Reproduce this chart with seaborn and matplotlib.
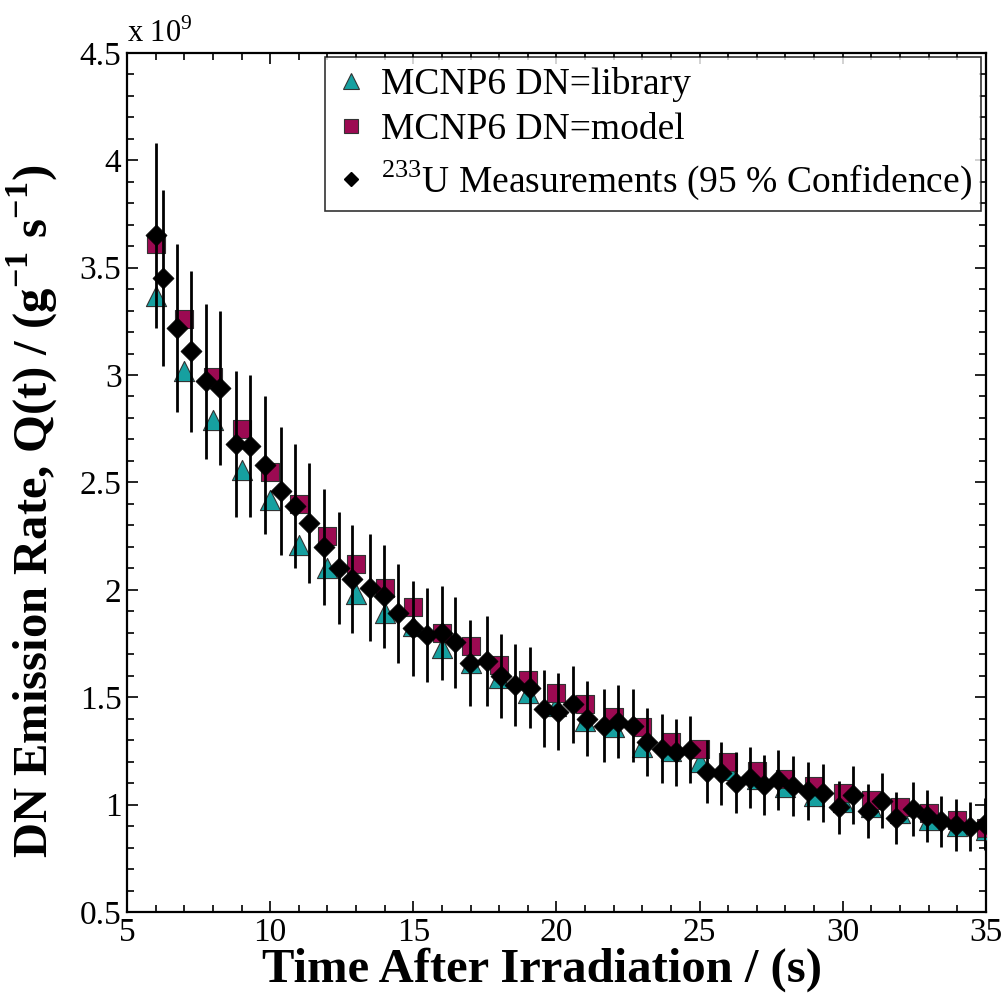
import numpy as np
import pandas as pd
import seaborn as sns
import matplotlib.pyplot as plt
from matplotlib.lines import Line2D
from matplotlib.ticker import MultipleLocator

# simulated rates at integer times (units of 1e9 g^-1 s^-1)
sim_time = list(range(6, 36))
lib_rate = [3.37, 3.02, 2.79, 2.56, 2.42, 2.21, 2.10, 1.98, 1.89, 1.83,
            1.73, 1.66, 1.59, 1.52, 1.46, 1.39, 1.36, 1.27, 1.25, 1.20,
            1.16, 1.12, 1.08, 1.04, 1.01, 0.99, 0.96, 0.93, 0.90, 0.88]
model_rate = [3.61, 3.26, 2.99, 2.75, 2.55, 2.40, 2.25, 2.12, 2.01, 1.92,
              1.80, 1.74, 1.65, 1.58, 1.52, 1.47, 1.41, 1.36, 1.29, 1.26,
              1.20, 1.155, 1.12, 1.085, 1.055, 1.02, 0.99, 0.96, 0.93, 0.89]

# measurements
meas_time = [6.0, 6.25, 6.75, 7.25, 7.75, 8.25, 8.8, 9.3, 9.82, 10.37,
             10.87, 11.37, 11.88, 12.4, 12.87, 13.49, 13.99, 14.45, 14.98, 15.47,
             15.99, 16.46, 16.98, 17.58, 18.08, 18.55, 19.08, 19.58, 20.07, 20.57,
             21.08, 21.67, 22.16, 22.66, 23.17, 23.7, 24.16, 24.66, 25.27, 25.74,
             26.26, 26.76, 27.26, 27.75, 28.25, 28.8, 29.32, 29.87, 30.37, 30.87,
             31.36, 31.85, 32.46, 32.96, 33.43, 33.95, 34.44, 34.97]
meas_rate = [3.65, 3.45, 3.22, 3.11, 2.97, 2.94, 2.68, 2.67, 2.58, 2.46,
             2.39, 2.31, 2.20, 2.10, 2.05, 2.01, 1.97, 1.89, 1.82, 1.79,
             1.80, 1.755, 1.66, 1.67, 1.60, 1.556, 1.545, 1.447, 1.433, 1.467,
             1.40, 1.367, 1.385, 1.367, 1.292, 1.261, 1.243, 1.255, 1.153, 1.145,
             1.103, 1.126, 1.091, 1.114, 1.085, 1.065, 1.055, 0.987, 1.046, 0.969,
             1.018, 0.937, 0.979, 0.948, 0.922, 0.905, 0.897, 0.909]
meas_err = [0.43, 0.41, 0.39, 0.375, 0.36, 0.36, 0.34, 0.33, 0.32, 0.30,
            0.29, 0.28, 0.27, 0.26, 0.25, 0.25, 0.24, 0.23, 0.22, 0.22,
            0.22, 0.21, 0.20, 0.21, 0.195, 0.19, 0.19, 0.18, 0.18, 0.18,
            0.175, 0.17, 0.17, 0.17, 0.16, 0.16, 0.157, 0.156, 0.146, 0.145,
            0.14, 0.14, 0.14, 0.14, 0.14, 0.135, 0.134, 0.125, 0.134, 0.125,
            0.128, 0.12, 0.127, 0.12, 0.118, 0.119, 0.114, 0.12]

sim = pd.DataFrame({"t": sim_time, "lib": lib_rate, "model": model_rate})
meas = pd.DataFrame({"t": meas_time, "rate": meas_rate, "err": meas_err})

teal = "#16a0a0"
crimson = "#9c0a52"

sns.set_style("ticks")
plt.rcParams["font.family"] = ["Liberation Serif", "DejaVu Serif"]
plt.rcParams["mathtext.fontset"] = "custom"
plt.rcParams["mathtext.rm"] = "Liberation Serif"
plt.rcParams["mathtext.bf"] = "Liberation Serif:bold"
plt.rcParams["text.color"] = "black"
plt.rcParams["axes.labelcolor"] = "black"
plt.rcParams["xtick.color"] = "black"
plt.rcParams["ytick.color"] = "black"
plt.rcParams["axes.edgecolor"] = "black"

fig = plt.figure(figsize=(10.08, 10.05), dpi=100)
ax = fig.add_axes([0.126, 0.0925, 0.852, 0.855])

sns.scatterplot(data=sim, x="t", y="lib", marker="^", s=210, color=teal,
                edgecolor="#333333", linewidth=0.8, ax=ax, zorder=3)
sns.scatterplot(data=sim, x="t", y="model", marker="s", s=150, color=crimson,
                edgecolor="#333333", linewidth=0.8, ax=ax, zorder=4)
ax.errorbar(meas["t"], meas["rate"], yerr=meas["err"], fmt="none",
            ecolor="black", elinewidth=2.0, capsize=0, zorder=5)
sns.scatterplot(data=meas, x="t", y="rate", marker="D", s=115, color="black",
                edgecolor="black", linewidth=0.5, ax=ax, zorder=6)

ax.set_xlim(5, 35)
ax.set_ylim(0.5, 4.5)
ax.xaxis.set_major_locator(MultipleLocator(5))
ax.xaxis.set_minor_locator(MultipleLocator(1))
ax.yaxis.set_major_locator(MultipleLocator(0.5))
ax.yaxis.set_minor_locator(MultipleLocator(0.1))
ax.set_yticks(np.arange(0.5, 4.51, 0.5))
ax.set_yticklabels(["0.5", "1", "1.5", "2", "2.5", "3", "3.5", "4", "4.5"])
ax.tick_params(which="both", direction="in", top=True, right=True,
               labelsize=24, width=1.2, pad=4)
ax.tick_params(which="major", length=8)
ax.tick_params(which="minor", length=5)
for sp in ax.spines.values():
    sp.set_linewidth(1.6)

ax.text(0.0, 1.004, r"x 10$^{9}$", transform=ax.transAxes, fontsize=22,
        ha="left", va="bottom")

ax.set_xlabel("Time After Irradiation / (s)", fontsize=35, fontweight="bold")
ax.xaxis.set_label_coords(0.483, -0.0815, transform=ax.transAxes)
ax.xaxis.label.set_va("baseline")
ax.set_ylabel(r"DN Emission Rate, Q(t) / (g$^{\mathbf{-1}}$ s$^{\mathbf{-1}}$)",
              fontsize=35, fontweight="bold")
ax.yaxis.set_label_coords(-0.078, 0.466, transform=ax.transAxes)

handles = [
    Line2D([], [], ls="none", marker="^", ms=11, color=teal, mec="#333333", mew=0.8),
    Line2D([], [], ls="none", marker="s", ms=10, color=crimson, mec="#333333", mew=0.8),
    Line2D([], [], ls="none", marker="D", ms=7.5, color="black"),
]
labels = ["MCNP6 DN=library", "MCNP6 DN=model",
          r"$^{233}$U Measurements (95 % Confidence)"]
leg = ax.legend(handles, labels, loc="upper right", fontsize=27, frameon=True,
                fancybox=False, borderaxespad=0.12, handletextpad=0.35,
                handlelength=0.9, borderpad=0.25, labelspacing=0.3)
leg.get_frame().set_edgecolor("black")
leg.get_frame().set_linewidth(1.2)

fig.savefig("out.png", dpi=100)
